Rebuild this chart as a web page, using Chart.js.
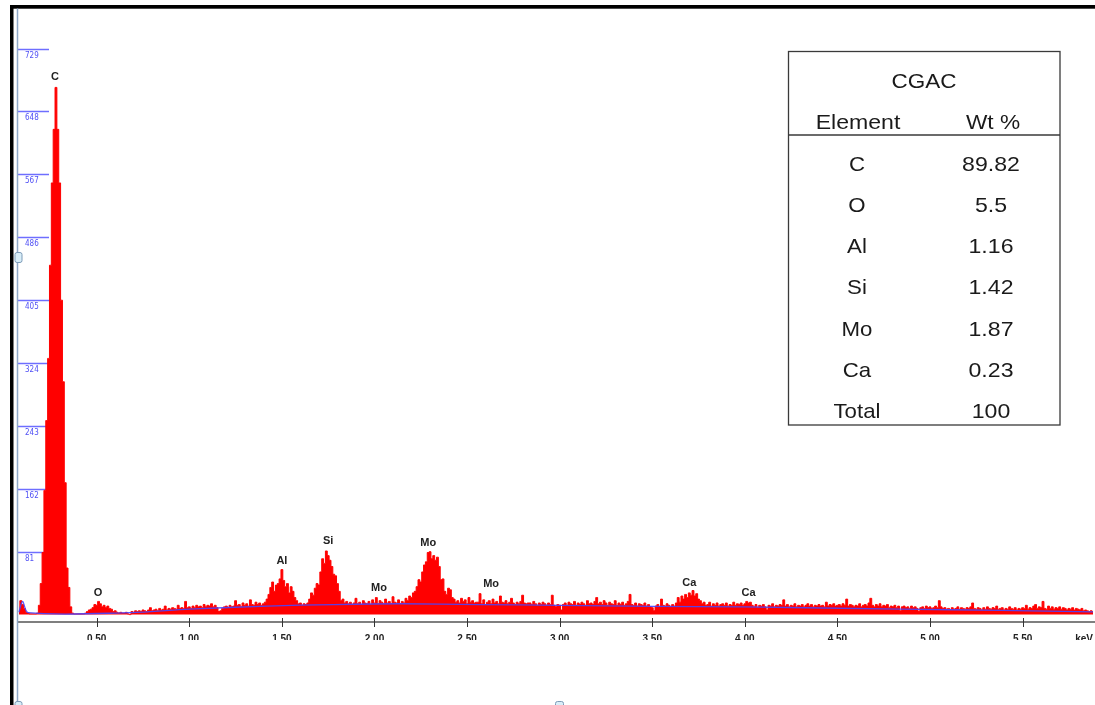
<!DOCTYPE html>
<html>
<head>
<meta charset="utf-8">
<title>EDS spectrum - CGAC</title>
<script src="https://cdn.jsdelivr.net/npm/chart.js@4.4.1/dist/chart.umd.min.js"></script>
<style>
  html, body { margin: 0; padding: 0; background: #fff; overflow: hidden; }
  canvas { display: block; }
</style>
</head>
<body>
<canvas id="spectrum" width="1095" height="705"></canvas>
<script>
// Channel grid: 10 eV per channel, first channel centred at 0.08 keV
const CH_START = 0.08;
const CH_WIDTH = 0.01;

// Counts per channel, split by energy band
const counts0 = [ // 0.08 - 0.99 keV
  6, 18, 13, 8, 3, 2, 1, 1, 1, 1, 2, 12,
  40, 80, 160, 250, 330, 450, 556, 625, 679, 625, 556, 405, 300, 170, 60, 35, 10,
  2, 1, 1, 1, 1, 1, 1, 2,
  4, 6, 7, 9, 13, 12, 17, 14, 10, 12, 9, 11, 8, 7, 4, 5, 3, 2,
  3, 2, 2, 3, 1, 0,
  4, 3, 5, 4, 5, 4, 6, 5, 4, 6, 9, 5, 6, 7, 5, 8, 6, 7, 11, 6, 8, 7, 9, 8, 7, 12, 8, 9, 8, 17, 9,
];
const counts1 = [ // 1.00 - 1.99 keV
  10, 8, 11, 9, 12, 10, 11, 9, 13, 10,
  12, 11, 14, 10, 12, 9, 4, 5, 8, 10,
  11, 9, 12, 10, 11, 18, 12, 13, 10, 15,
  12, 14, 11, 19, 13, 12, 16, 13, 15, 12,
  14, 16, 20, 26, 35, 42, 30, 38, 40, 46,
  58, 44, 36, 40, 28, 36, 30, 22, 18, 14,
  15, 12, 14, 13, 15, 20, 28, 25, 34, 40,
  38, 55, 72, 66, 82, 76, 70, 62, 52, 50,
  40, 30, 18, 20, 15, 17, 14, 16, 13, 15,
  21, 14, 16, 13, 18, 15, 14, 17, 13, 19,
];
const counts2 = [ // 2.00 - 2.99 keV
  15, 22, 14, 18, 16, 14, 20, 15, 17, 14,
  23, 16, 15, 19, 14, 17, 15, 21, 18, 24,
  22, 28, 30, 36, 45, 42, 55, 64, 68, 80,
  81, 72, 76, 70, 74, 62, 45, 46, 30, 26,
  34, 32, 22, 20, 16, 18, 15, 21, 17, 19,
  14, 22, 16, 18, 15, 16, 16, 27, 14, 19,
  13, 16, 18, 14, 20, 15, 17, 14, 24, 16,
  15, 18, 14, 16, 21, 15, 13, 16, 14, 17,
  25, 15, 14, 15, 15, 13, 17, 14, 12, 15,
  13, 16, 14, 12, 15, 13, 25, 12, 10, 13,
];
const counts3 = [ // 3.00 - 3.99 keV
  12, 6, 13, 15, 12, 16, 14, 13, 17, 12,
  15, 13, 16, 14, 12, 18, 14, 15, 13, 17,
  22, 14, 16, 13, 18, 15, 12, 16, 14, 13,
  18, 12, 15, 13, 16, 12, 14, 17, 26, 13,
  12, 15, 11, 14, 13, 12, 15, 11, 13, 10,
  9, 5, 11, 13, 10, 20, 12, 11, 14, 12,
  10, 13, 11, 15, 22, 16, 24, 20, 26, 22,
  28, 25, 31, 24, 27, 20, 18, 14, 16, 12,
  13, 16, 11, 14, 12, 15, 11, 13, 14, 12,
  15, 11, 13, 12, 16, 12, 14, 13, 15, 12,
];
const counts4 = [ // 4.00 - 4.99 keV
  14, 17, 15, 16, 12, 10, 13, 9, 12, 11,
  13, 10, 6, 12, 11, 14, 10, 12, 11, 13,
  12, 19, 11, 13, 10, 12, 11, 14, 10, 12,
  11, 13, 10, 12, 14, 11, 13, 10, 12, 11,
  13, 11, 12, 10, 16, 11, 13, 12, 14, 11,
  12, 13, 11, 14, 12, 20, 11, 13, 12, 10,
  12, 11, 14, 10, 12, 13, 11, 15, 21, 12,
  10, 13, 11, 14, 10, 12, 11, 13, 9, 11,
  10, 12, 9, 11, 5, 10, 11, 9, 10, 8,
  11, 9, 10, 8, 4, 9, 10, 8, 11, 9,
];
const counts5 = [ // 5.00 - 5.88 keV
  10, 8, 9, 11, 9, 18, 10, 8, 9, 7,
  8, 6, 9, 7, 8, 10, 7, 9, 8, 7,
  9, 8, 10, 15, 8, 7, 9, 8, 6, 9,
  7, 10, 8, 7, 9, 8, 11, 7, 8, 9,
  6, 8, 7, 10, 8, 7, 9, 6, 8, 7,
  9, 8, 12, 7, 9, 8, 11, 13, 8, 10,
  9, 17, 8, 7, 11, 8, 10, 7, 9, 8,
  10, 7, 9, 8, 6, 8, 7, 9, 6, 8,
  7, 6, 8, 5, 6, 5, 4, 5, 4,
];

// Fitted background (continuum) under the spectrum
const bgKeV = [0.08, 0.1, 0.13, 0.68, 1.0, 1.42, 1.78, 2.14, 2.57, 3.0, 3.5, 4.0, 4.84, 5.38, 5.88];
const bgCounts = [3, 17, 2.5, 2.5, 7, 11, 13, 14, 13, 12, 10.5, 10, 7, 5.5, 3.5];

// Peak identification labels
const peakNames = ["C", "O", "Al", "Si", "Mo", "Mo", "Mo", "Ca", "Ca"];
const peakKeV = [0.275, 0.507, 1.5, 1.75, 2.024, 2.29, 2.63, 3.7, 4.02];
const peakLabelCounts = [692, 28, 69, 95, 34, 92, 39, 41, 28];

// Axis ticks
const yTicks = [81, 162, 243, 324, 405, 486, 567, 648, 729];
const xTicks = [0.5, 1.0, 1.5, 2.0, 2.5, 3.0, 3.5, 4.0, 4.5, 5.0, 5.5];
const xTickLabels = ["0.50", "1.00", "1.50", "2.00", "2.50", "3.00", "3.50", "4.00", "4.50", "5.00", "5.50"];

// Quantification table
const tableTitle = "CGAC";
const tableElements = ["C", "O", "Al", "Si", "Mo", "Ca", "Total"];
const tableWt = ["89.82", "5.5", "1.16", "1.42", "1.87", "0.23", "100"];

const spectrum = [...counts0, ...counts1, ...counts2, ...counts3, ...counts4, ...counts5];
const spectrumPoints = spectrum.map((c, i) => ({ x: +(CH_START + i * CH_WIDTH).toFixed(2), y: c }));
const bgPoints = bgKeV.map((e, i) => ({ x: e, y: bgCounts[i] }));

const LABEL_FONT = "'Liberation Sans', Arial, sans-serif";

// centred text, stretched a little horizontally
function wideText(ctx, text, cx, cy, stretch) {
  ctx.save();
  ctx.translate(cx, cy);
  ctx.scale(stretch, 1);
  ctx.fillText(text, 0, 0);
  ctx.restore();
}

const edsOverlay = {
  id: "edsOverlay",
  beforeDraw(chart) {
    const { ctx, width, height } = chart;
    ctx.save();
    ctx.fillStyle = "#fff";
    ctx.fillRect(0, 0, width, height);
    ctx.restore();
  },
  beforeDatasetsDraw(chart) {
    // short blue count markers along the left edge
    const { ctx, chartArea, scales: { y } } = chart;
    ctx.save();
    ctx.strokeStyle = "rgb(110,110,255)";
    ctx.lineWidth = 1.5;
    ctx.fillStyle = "rgb(80,80,245)";
    ctx.font = "8px 'Liberation Sans Narrow', 'DejaVu Sans Condensed', sans-serif";
    ctx.textBaseline = "top";
    yTicks.forEach((v) => {
      const py = Math.round(y.getPixelForValue(v)) + 0.5;
      ctx.beginPath();
      ctx.moveTo(chartArea.left, py);
      ctx.lineTo(chartArea.left + 31, py);
      ctx.stroke();
      ctx.fillText(String(v), chartArea.left + 7, py + 2);
    });
    ctx.restore();
  },
  afterDatasetsDraw(chart) {
    const { ctx, scales: { x, y } } = chart;
    ctx.save();
    ctx.fillStyle = "#222";
    ctx.font = "bold 11px " + LABEL_FONT;
    ctx.textAlign = "center";
    ctx.textBaseline = "middle";
    peakNames.forEach((name, i) => {
      ctx.fillText(name, x.getPixelForValue(peakKeV[i]), y.getPixelForValue(peakLabelCounts[i]));
    });
    ctx.restore();
  },
  afterDraw(chart) {
    const { ctx, chartArea, width, height, scales: { x } } = chart;
    ctx.save();

    // energy axis
    const axisY = chartArea.bottom;
    ctx.strokeStyle = "#555";
    ctx.lineWidth = 1.5;
    ctx.beginPath();
    ctx.moveTo(chartArea.left, axisY);
    ctx.lineTo(width, axisY);
    ctx.stroke();
    ctx.strokeStyle = "#333";
    ctx.lineWidth = 1;
    xTicks.forEach((v) => {
      const px = Math.round(x.getPixelForValue(v)) + 0.5;
      ctx.beginPath();
      ctx.moveTo(px, axisY - 4);
      ctx.lineTo(px, axisY + 5);
      ctx.stroke();
    });

    // tick labels sit half hidden under the lower edge of the panel
    ctx.save();
    ctx.beginPath();
    ctx.rect(chartArea.left, axisY + 8, width, 10);
    ctx.clip();
    ctx.fillStyle = "#222";
    ctx.font = "bold 10px " + LABEL_FONT;
    ctx.textAlign = "center";
    ctx.textBaseline = "top";
    xTicks.forEach((v, i) => {
      ctx.fillText(xTickLabels[i], x.getPixelForValue(v), axisY + 12);
    });
    ctx.textAlign = "right";
    ctx.fillText("keV", chartArea.right, axisY + 12);
    ctx.restore();

    // panel frame
    ctx.fillStyle = "#000";
    ctx.fillRect(10, 5, 3.5, height - 5);
    ctx.fillRect(10, 5, width - 10, 3.7);
    ctx.strokeStyle = "#8ea7c6";
    ctx.lineWidth = 1.5;
    ctx.beginPath();
    ctx.moveTo(17.5, 8.5);
    ctx.lineTo(17.5, height);
    ctx.stroke();

    // scroll handles
    const handle = (hx, hy, w, h) => {
      ctx.fillStyle = "#d9eef8";
      ctx.strokeStyle = "#7d9bb8";
      ctx.lineWidth = 1;
      ctx.beginPath();
      ctx.roundRect(hx + 0.5, hy + 0.5, w, h, 2);
      ctx.fill();
      ctx.stroke();
    };
    handle(14.5, 252, 7, 10);
    handle(14.5, 701, 7, 10);
    handle(555, 701, 8, 10);

    // quantification table
    const tx = 788.5, ty = 51.5, tw = 271.5, th = 373.5;
    ctx.strokeStyle = "#3a3a3a";
    ctx.lineWidth = 1.3;
    ctx.strokeRect(tx, ty, tw, th);
    ctx.beginPath();
    ctx.moveTo(tx, 135);
    ctx.lineTo(tx + tw, 135);
    ctx.stroke();

    ctx.fillStyle = "#1a1a1a";
    ctx.font = "21px " + LABEL_FONT;
    ctx.textAlign = "center";
    ctx.textBaseline = "middle";
    wideText(ctx, tableTitle, 924, 82, 1.07);
    wideText(ctx, "Element", 858, 123, 1.1);
    wideText(ctx, "Wt %", 993, 123, 1.08);
    tableElements.forEach((el, i) => {
      const ry = 165 + i * 41.2;
      wideText(ctx, el, 857, ry, 1.06);
      wideText(ctx, tableWt[i], 991, ry, 1.1);
    });

    ctx.restore();
  },
};

const ctx = document.getElementById("spectrum").getContext("2d");
new Chart(ctx, {
  type: "line",
  data: {
    datasets: [
      {
        label: "Background",
        data: bgPoints,
        borderColor: "rgba(70,70,255,0.9)",
        borderWidth: 1.3,
        pointRadius: 0,
        fill: false,
        tension: 0.3,
      },
      {
        label: "Counts",
        data: spectrumPoints,
        stepped: "middle",
        borderColor: "rgb(255,0,0)",
        backgroundColor: "rgb(255,0,0)",
        borderWidth: 1,
        pointRadius: 0,
        fill: "origin",
      },
    ],
  },
  options: {
    responsive: false,
    animation: false,
    devicePixelRatio: 1,
    layout: { padding: { left: 18, right: 2, top: 9, bottom: 83 } },
    scales: {
      x: { type: "linear", min: 0.075, max: 5.88, display: false },
      y: { min: -9.5, max: 780, display: false },
    },
    plugins: {
      legend: { display: false },
      tooltip: { enabled: false },
    },
  },
  plugins: [edsOverlay],
});
</script>
</body>
</html>
